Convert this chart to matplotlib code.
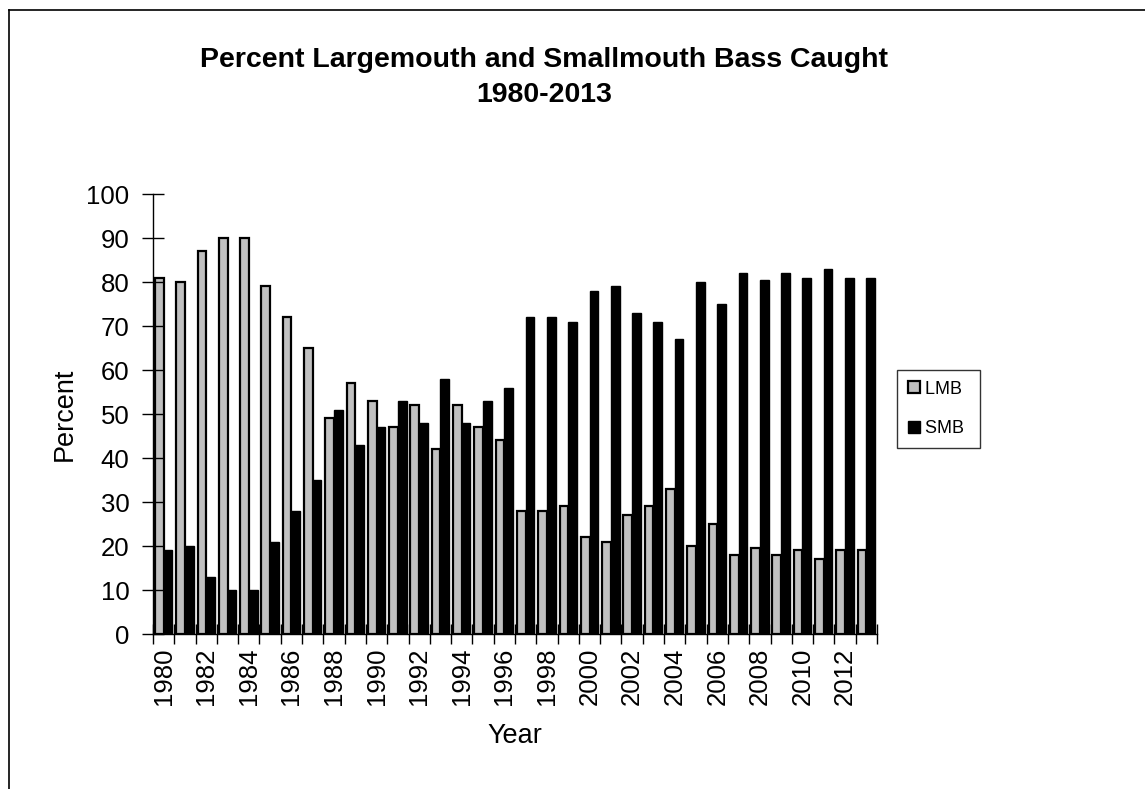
import matplotlib
matplotlib.use('Agg')
import matplotlib.pyplot as plt
from matplotlib.lines import Line2D
import numpy as np

years = list(range(1980, 2014))
lmb = [81, 80, 87, 90, 90, 79, 72, 65, 49, 57, 53, 47, 52, 42, 52, 47, 44,
       28, 28, 29, 22, 21, 27, 29, 33, 20, 25, 18, 19.5, 18, 19, 17, 19, 19]
smb = [19, 20, 13, 10, 10, 21, 28, 35, 51, 43, 47, 53, 48, 58, 48, 53, 56,
       72, 72, 71, 78, 79, 73, 71, 67, 80, 75, 82, 80.5, 82, 81, 83, 81, 81]
tick_years = years[::2]

plt.rcParams['font.family'] = ['Liberation Sans', 'DejaVu Sans']

W, H = 1145, 789
fig = plt.figure(figsize=(W / 100, H / 100), dpi=100)
ax = fig.add_axes([153 / W, (H - 634) / H, 724 / W, 440 / H])

x = np.arange(len(years))
bw = 0.41
ax.bar(x - bw / 2, lmb, bw, color='#c0c0c0', edgecolor='black', linewidth=1.6, label='LMB')
ax.bar(x + bw / 2, smb, bw, color='black', edgecolor='black', linewidth=1.0, label='SMB')

ax.set_xlim(-0.5, len(years) - 0.5)
ax.set_ylim(0, 100)
ax.set_yticks(range(0, 101, 10))
ax.set_xticks(x[::2])
ax.set_xticklabels([str(y) for y in tick_years], rotation=90)
ax.set_xticks(np.arange(-0.5, len(years), 1), minor=True)
ax.tick_params(axis='x', which='major', length=0, labelsize=18.5, pad=10)
ax.tick_params(axis='x', which='minor', direction='inout', length=14, width=1)
ax.tick_params(axis='y', direction='inout', length=16, width=1, labelsize=18.5, pad=9)

for s in ['top', 'right']:
    ax.spines[s].set_visible(False)
ax.spines['left'].set_linewidth(1)
ax.spines['bottom'].set_linewidth(1)

ax.set_xlabel('Year', fontsize=19.5, labelpad=13)
ax.set_ylabel('Percent', fontsize=19.5, labelpad=6)

fig.text(544 / W, 1 - 60 / H, 'Percent Largemouth and Smallmouth Bass Caught',
         ha='center', va='center', fontsize=20.5, fontweight='bold')
fig.text(544 / W, 1 - 95 / H, '1980-2013', ha='center', va='center',
         fontsize=20.5, fontweight='bold')

leg = ax.legend(loc='center left', bbox_to_anchor=(897 / W, 1 - 409 / H),
                bbox_transform=fig.transFigure, fontsize=13, frameon=True,
                fancybox=False, edgecolor='black', handlelength=0.65,
                handleheight=0.65, handletextpad=0.3, labelspacing=1.25,
                borderpad=0.6, borderaxespad=0)
leg.get_frame().set_linewidth(1)
# stretch the legend box a little wider, like the original
leg._legend_box.sep = 0
for t in leg.get_texts():
    t.set_text(t.get_text() + ' ')

# outer frame (only left and top are visible in the original crop)
fig.add_artist(Line2D([9 / W, 9 / W], [0, 1 - 10 / H], color='black', linewidth=1.2,
                      transform=fig.transFigure))
fig.add_artist(Line2D([9 / W, 1], [1 - 10 / H, 1 - 10 / H], color='black', linewidth=1.2,
                      transform=fig.transFigure))

fig.savefig('out.png', dpi=100)
